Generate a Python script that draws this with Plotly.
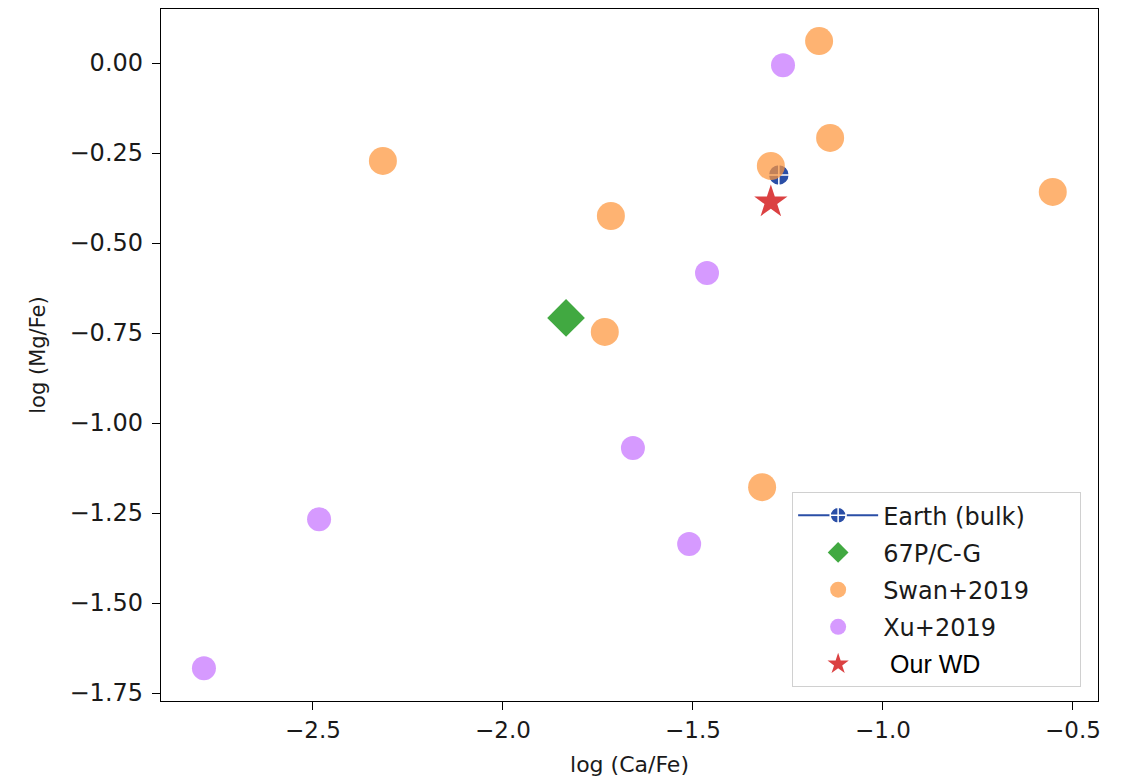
import plotly.graph_objects as go

# Data
swan_x = [-1.168, -2.316, -1.139, -1.295, -0.553, -1.716, -1.732, -1.318]
swan_y = [0.061, -0.272, -0.208, -0.286, -0.358, -0.425, -0.747, -1.178]

xu_x = [-1.263, -1.463, -1.658, -2.484, -1.510, -2.787]
xu_y = [-0.006, -0.583, -1.069, -1.267, -1.336, -1.681]

comet_x = [-1.834]
comet_y = [-0.708]

earth_x = [-1.274]
earth_y = [-0.311]

wd_x = [-1.295]
wd_y = [-0.386]

x_ticks = [-2.5, -2.0, -1.5, -1.0, -0.5]
y_ticks = [0.0, -0.25, -0.5, -0.75, -1.0, -1.25, -1.5, -1.75]
y_tick_labels = ["0.00", "−0.25", "−0.50", "−0.75", "−1.00", "−1.25", "−1.50", "−1.75"]
x_tick_labels = ["−2.5", "−2.0", "−1.5", "−1.0", "−0.5"]

PAD = "&nbsp;" * 6

fig = go.Figure()

fig.add_trace(go.Scatter(
    x=comet_x, y=comet_y, mode="markers", name="67P/C-G" + PAD, legendgroup="b", legendrank=2,
    marker=dict(symbol="diamond", size=29, color="rgba(44,160,44,0.9)", line=dict(width=0)),
))
fig.add_trace(go.Scatter(
    x=earth_x, y=earth_y, mode="lines+markers", name="Earth (bulk)" + PAD, legendgroup="a", legendrank=1,
    line=dict(color="#2a4ea6", width=2),
    marker=dict(symbol="circle-cross", size=21, color="#2a4ea6", line=dict(color="white", width=1.5)),
))
fig.add_trace(go.Scatter(
    x=swan_x, y=swan_y, mode="markers", name="Swan+2019" + PAD, legendgroup="c", legendrank=3,
    marker=dict(symbol="circle", size=28, color="rgba(253,150,60,0.72)", line=dict(width=0)),
))
fig.add_trace(go.Scatter(
    x=xu_x, y=xu_y, mode="markers", name="Xu+2019" + PAD, legendgroup="d", legendrank=4,
    marker=dict(symbol="circle", size=24, color="rgba(200,120,255,0.75)", line=dict(width=0)),
))
fig.add_trace(go.Scatter(
    x=wd_x, y=wd_y, mode="markers", legendgroup="e", legendrank=5,
    name='<span style="font-family:Liberation Sans, Arial; font-size:25px; color:black">&nbsp;Our WD</span>',
    marker=dict(symbol="star", size=25, color="rgba(214,39,40,0.88)", line=dict(width=0)),
))

axis_common = dict(
    showgrid=False, zeroline=False, showline=True, linecolor="black", linewidth=1.3,
    mirror=True, ticks="outside", ticklen=8, tickcolor="black", tickwidth=1.3,
)

fig.update_xaxes(range=[-2.9, -0.434], tickvals=x_ticks, ticktext=x_tick_labels,
                 tickfont=dict(family="DejaVu Sans", size=23, color="#1a1a1a"),
                 title=dict(text="log (Ca/Fe)", font=dict(family="DejaVu Sans", size=22, color="#1a1a1a"), standoff=14),
                 **axis_common)
fig.update_yaxes(range=[-1.772, 0.15], tickvals=y_ticks, ticktext=y_tick_labels,
                 tickfont=dict(family="DejaVu Sans", size=24, color="#1a1a1a"), ticklabelstandoff=4,
                 title=dict(text="log (Mg/Fe)", font=dict(family="DejaVu Sans", size=21, color="#1a1a1a"), standoff=18),
                 **axis_common)

fig.update_layout(
    width=1125, height=780,
    margin=dict(l=153, r=35, t=1, b=87),
    paper_bgcolor="white", plot_bgcolor="white",
    font=dict(family="DejaVu Sans", color="#1a1a1a"),
    showlegend=True,
    legend=dict(
        x=0.982, y=0.02, xanchor="right", yanchor="bottom",
        bgcolor="rgba(255,255,255,0.9)", bordercolor="#d0d0d0", borderwidth=1,
        font=dict(family="DejaVu Sans", size=24, color="#1a1a1a"),
        traceorder="grouped", tracegroupgap=3, itemsizing="trace", itemwidth=80,
    ),
)

fig.write_html("out.html")
